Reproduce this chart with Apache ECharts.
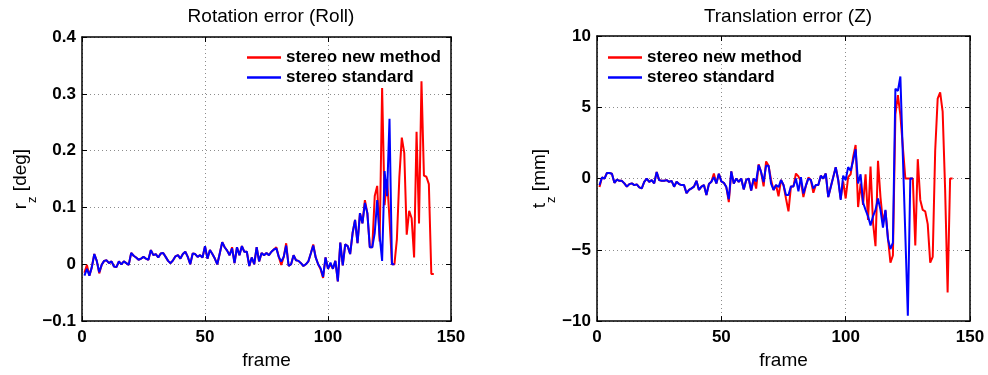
<!DOCTYPE html>
<html>
<head>
<meta charset="utf-8">
<script src="https://cdn.jsdelivr.net/npm/echarts@6/dist/echarts.min.js"></script>
<style>
html,body{margin:0;padding:0;background:#fff;}
#c{width:988px;height:375px;}
</style>
</head>
<body>
<div id="c"></div>
<script>
// ---- Data (frame index starts at 1) ----
const rollStandard = [
-0.020,-0.008,-0.020,-0.005,0.018,0.006,-0.014,-0.001,0.006,0.007,
0.002,0.005,-0.004,-0.005,0.005,0.000,0.005,0.002,-0.001,0.020,
0.015,0.012,0.008,0.010,0.013,0.010,0.008,0.025,0.016,0.018,
0.012,0.019,0.020,0.013,0.006,0.002,0.007,0.014,0.016,0.010,
0.018,0.022,0.013,0.000,0.019,0.018,0.013,0.016,0.012,0.032,
0.010,0.025,0.018,0.010,0.000,0.019,0.039,0.030,0.024,0.016,
0.028,0.002,0.030,0.016,0.032,0.022,0.022,-0.003,0.012,0.000,
0.030,0.005,0.020,0.016,0.020,0.016,0.022,0.026,0.028,0.013,
0.005,0.013,0.033,-0.003,0.000,0.016,0.007,0.006,0.002,-0.003,
0.000,0.005,0.019,0.033,0.012,0.000,-0.007,-0.022,0.012,-0.008,
0.003,-0.008,0.006,-0.030,0.038,-0.002,0.035,0.032,0.018,0.055,
0.078,0.037,0.090,0.072,0.108,0.090,0.030,0.030,0.055,0.113,
0.050,0.006,0.164,0.120,0.256,0.000,0.000
];
const rollNew = [
-0.015,-0.001,-0.020,-0.005,0.018,0.006,-0.016,-0.001,0.006,0.007,
0.002,0.005,-0.004,-0.005,0.005,0.000,0.005,0.002,-0.001,0.020,
0.015,0.012,0.008,0.010,0.013,0.010,0.008,0.025,0.016,0.018,
0.012,0.019,0.020,0.013,0.006,0.002,0.007,0.014,0.016,0.010,
0.018,0.022,0.013,0.000,0.019,0.018,0.013,0.016,0.012,0.032,
0.010,0.025,0.018,0.010,0.000,0.019,0.039,0.030,0.024,0.016,
0.030,0.002,0.030,0.016,0.032,0.022,0.022,-0.003,0.012,0.000,
0.030,0.005,0.020,0.016,0.020,0.016,0.022,0.026,0.030,0.013,
-0.001,0.013,0.037,-0.003,0.000,0.016,0.007,0.006,0.002,-0.003,
0.000,0.005,0.019,0.035,0.012,0.000,-0.009,-0.024,0.012,-0.008,
0.000,-0.008,0.006,-0.030,0.038,-0.002,0.035,0.032,0.018,0.055,
0.078,0.037,0.090,0.072,0.113,0.090,0.030,0.030,0.120,0.138,
0.040,0.310,0.104,0.150,0.080,0.000,0.000,0.044,0.153,0.223,
0.196,0.052,0.094,0.081,0.012,0.233,0.072,0.322,0.156,0.154,
0.141,-0.017,-0.017
];
const transStandard = [
-0.46,0.07,0.00,0.39,0.39,0.34,-0.30,-0.07,-0.16,-0.16,
-0.34,-0.57,-0.39,-0.34,-0.46,-0.41,-0.62,-0.69,-0.23,0.00,
-0.23,-0.11,-0.34,0.46,-0.11,-0.16,-0.16,-0.11,-0.23,-0.16,
-0.57,-0.23,-0.39,-0.46,-0.46,-1.03,-0.80,-0.69,-0.57,-0.16,
-0.80,-0.57,-0.46,-1.15,-0.39,-0.23,0.10,-0.34,0.34,-0.20,
-0.30,-0.60,-1.45,0.50,-0.35,0.00,-0.23,0.00,-0.76,-0.10,
0.00,-0.85,0.00,-0.20,0.95,0.45,-0.25,0.90,0.90,-0.35,
-0.80,-0.45,-0.60,-0.10,-0.45,-1.15,-1.15,-0.55,-0.55,0.00,
-0.90,0.10,-1.05,-0.50,0.00,-0.10,-0.70,-0.45,-0.45,0.20,
0.00,0.35,-1.30,-0.60,0.10,0.80,-0.10,-1.50,0.20,-0.10,
0.80,0.55,1.25,2.05,-0.35,0.30,-1.70,-2.20,-2.65,-3.30,
-2.65,-2.20,-1.40,-2.20,-3.45,-2.20,-4.25,-4.95,-4.50,6.30,
6.15,7.16,1.56,-4.00,-9.63,0.00,0.00
];
const transNew = [
-0.60,0.07,0.00,0.39,0.39,0.34,-0.30,-0.07,-0.16,-0.16,
-0.34,-0.57,-0.39,-0.34,-0.46,-0.41,-0.62,-0.69,-0.23,0.00,
-0.23,-0.11,-0.34,0.46,-0.11,-0.16,-0.16,-0.11,-0.23,-0.16,
-0.57,-0.23,-0.39,-0.46,-0.46,-1.03,-0.80,-0.69,-0.57,-0.16,
-0.80,-0.57,-0.46,-1.15,-0.39,-0.23,0.35,-0.34,0.34,-0.20,
-0.30,-0.60,-1.65,0.50,-0.35,0.00,-0.23,0.00,-0.76,-0.10,
0.00,-0.85,0.00,-0.70,1.00,0.45,-0.55,1.20,0.90,-0.10,
-0.80,-0.45,-1.25,-0.10,-0.45,-1.40,-2.30,-0.55,-0.55,0.35,
0.15,-0.20,-1.30,-0.50,0.07,-0.10,-1.00,-0.45,-0.45,0.20,
0.00,0.35,-1.30,-0.60,0.10,0.80,-0.10,-1.40,-0.20,-1.40,
0.10,0.30,1.50,2.35,-2.00,-0.35,-1.85,0.30,-2.90,0.85,
-3.10,-4.75,1.25,-1.30,-3.10,-2.25,-4.15,-5.90,-5.40,4.50,
5.85,4.45,2.20,0.00,0.00,0.00,0.00,-4.70,1.36,-1.50,
-2.20,-2.30,-3.20,-5.90,-5.50,1.95,5.60,6.05,4.70,-0.80,
-8.00,0.00,0.00
];
const xTicks = [0, 50, 100, 150];
const rollTicks = [-0.1, 0, 0.1, 0.2, 0.3, 0.4];
const transTicks = [-10, -5, 0, 5, 10];
const seriesNames = ['stereo new method', 'stereo standard'];
const titles = ['Rotation error (Roll)', 'Translation error (Z)'];

// ---- helpers ----
const toPairs = arr => arr.map((v, i) => [i + 1, v]);
const fmtNum = v => {
  const r = Math.round(v * 1000) / 1000;
  return r < 0 ? '\u2212' + String(Math.abs(r)) : String(r);
};
const FONT = '"Liberation Sans", Arial, Helvetica, sans-serif';
const gridLine = {show: true, lineStyle: {color: '#8c8c8c', type: [1, 3], width: 1}};
const axisLine = {show: true, onZero: false, lineStyle: {color: '#000', width: 1.5}};
const tickIn = {show: true, inside: true, length: 5, lineStyle: {color: '#000', width: 1}};
const lblBold = {color: '#000', fontFamily: FONT, fontWeight: 'bold', fontSize: 17};

const grids = [
  {left: 82, top: 37, width: 369, height: 290},
  {left: 597, top: 36, width: 373, height: 291}
];

function xAxes(gi) {
  const base = {type: 'value', gridIndex: gi, min: xTicks[0], max: xTicks[xTicks.length - 1], interval: 50};
  return [
    Object.assign({}, base, {
      position: 'bottom', axisLine, axisTick: tickIn, splitLine: gridLine,
      axisLabel: Object.assign({margin: 8, formatter: fmtNum}, lblBold),
      name: 'frame', nameLocation: 'middle', nameGap: 23,
      nameTextStyle: {color: '#000', fontFamily: FONT, fontSize: 19}
    }),
    Object.assign({}, base, {
      position: 'top', axisLine, axisTick: tickIn, splitLine: {show: false}, axisLabel: {show: false}
    })
  ];
}
function yAxes(gi, ticks, sym, unit) {
  const base = {type: 'value', gridIndex: gi, min: ticks[0], max: ticks[ticks.length - 1],
    interval: ticks[1] - ticks[0]};
  return [
    Object.assign({}, base, {
      position: 'left', axisLine, axisTick: tickIn, splitLine: gridLine,
      axisLabel: Object.assign({margin: 6, formatter: fmtNum}, lblBold),
      name: '{n|' + sym + '}{s|z}{n| ' + unit + '}', nameLocation: 'middle', nameGap: 42, nameRotate: 90,
      nameTextStyle: {
        color: '#000', fontFamily: FONT, fontSize: 19,
        rich: {
          n: {fontSize: 19, fontFamily: FONT, color: '#000', lineHeight: 24, verticalAlign: 'middle'},
          s: {fontSize: 13, fontFamily: FONT, color: '#000', lineHeight: 24, verticalAlign: 'bottom', padding: [0, 0, -6, 0]}
        }
      }
    }),
    Object.assign({}, base, {
      position: 'right', axisLine, axisTick: tickIn, splitLine: {show: false}, axisLabel: {show: false}
    })
  ];
}

const legendBase = {orient: 'vertical', top: 44, icon: 'rect', itemWidth: 34, itemHeight: 2.5, itemGap: 3,
  data: seriesNames, selectedMode: false,
  textStyle: {fontFamily: FONT, fontWeight: 'bold', fontSize: 17, color: '#000'}};

const option = {
  animation: false,
  backgroundColor: '#fff',
  title: [
    {text: titles[0], left: 266, top: 2, textAlign: 'center',
     textStyle: {fontFamily: FONT, fontWeight: 'normal', fontSize: 19, color: '#000'}},
    {text: titles[1], left: 783, top: 2, textAlign: 'center',
     textStyle: {fontFamily: FONT, fontWeight: 'normal', fontSize: 19, color: '#000'}}
  ],
  grid: grids.map(g => Object.assign({show: true, borderColor: '#000', borderWidth: 0, backgroundColor: '#fff'}, g)),
  legend: [
    Object.assign({left: 242}, legendBase),
    Object.assign({left: 603}, legendBase)
  ],
  xAxis: [].concat(xAxes(0), xAxes(1)),
  yAxis: [].concat(yAxes(0, rollTicks, 'r', '[deg]'), yAxes(1, transTicks, 't', '[mm]')),
  series: [
    {name: seriesNames[0], type: 'line', xAxisIndex: 0, yAxisIndex: 0, data: toPairs(rollNew),
     symbol: 'none', lineStyle: {color: '#ff0000', width: 2}, itemStyle: {color: '#ff0000'}},
    {name: seriesNames[1], type: 'line', xAxisIndex: 0, yAxisIndex: 0, data: toPairs(rollStandard),
     symbol: 'none', lineStyle: {color: '#0000ff', width: 2}, itemStyle: {color: '#0000ff'}},
    {name: seriesNames[0], type: 'line', xAxisIndex: 2, yAxisIndex: 2, data: toPairs(transNew),
     symbol: 'none', lineStyle: {color: '#ff0000', width: 2}, itemStyle: {color: '#ff0000'}},
    {name: seriesNames[1], type: 'line', xAxisIndex: 2, yAxisIndex: 2, data: toPairs(transStandard),
     symbol: 'none', lineStyle: {color: '#0000ff', width: 2}, itemStyle: {color: '#0000ff'}}
  ]
};
const chart = echarts.init(document.getElementById('c'), null, {renderer: 'canvas'});
chart.setOption(option);
</script>
</body>
</html>
